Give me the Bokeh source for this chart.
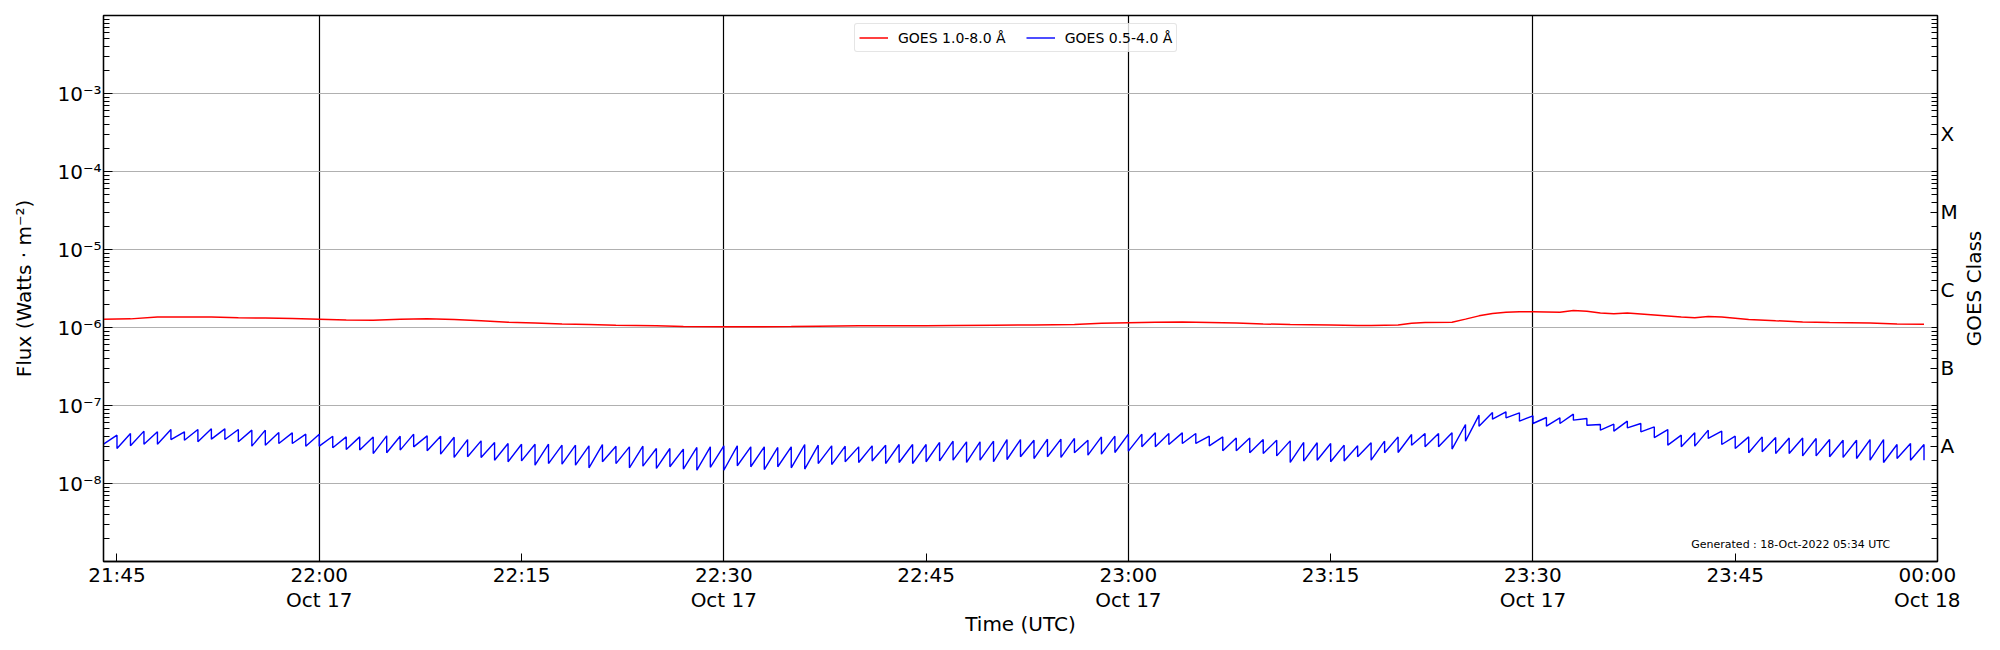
import math
import pandas as pd
from bokeh.plotting import figure
from bokeh.layouts import row
from bokeh.models import FixedTicker, CustomJSTickFormatter, LogAxis, Range1d, Label
from bokeh.embed import file_html
from bokeh.resources import INLINE

# ---------------- data ----------------
blue_start = "2022-10-17 21:44"          # one sawtooth tooth per minute
# value just after the drop at each minute boundary (21:44 ... 23:59), W/m^2
blue_low = [3.19e-8,
    2.81e-8, 3.04e-8, 3.19e-8, 3.19e-8, 3.66e-8, 3.59e-8, 3.42e-8, 3.70e-8, 3.66e-8, 3.42e-8,
    3.01e-8, 3.10e-8, 3.26e-8, 3.26e-8, 3.01e-8, 3.01e-8, 2.87e-8, 2.73e-8, 2.68e-8, 2.42e-8,
    2.48e-8, 2.68e-8, 2.95e-8, 2.63e-8, 2.38e-8, 2.16e-8, 2.20e-8, 2.16e-8, 1.99e-8, 1.90e-8,
    1.95e-8, 1.72e-8, 1.80e-8, 1.77e-8, 1.72e-8, 1.59e-8, 1.90e-8, 1.80e-8, 1.59e-8, 1.67e-8,
    1.56e-8, 1.64e-8, 1.53e-8, 1.48e-8, 1.61e-8, 1.48e-8, 1.69e-8, 1.64e-8, 1.51e-8, 1.64e-8,
    1.59e-8, 1.53e-8, 1.80e-8, 1.75e-8, 1.90e-8, 1.86e-8, 1.94e-8, 1.80e-8, 1.86e-8, 1.80e-8,
    1.90e-8, 1.95e-8, 1.99e-8, 1.86e-8, 1.99e-8, 1.90e-8, 2.03e-8, 2.20e-8, 2.09e-8, 2.20e-8,
    2.16e-8, 2.48e-8, 2.31e-8, 2.38e-8, 2.50e-8, 2.60e-8, 2.95e-8, 2.95e-8, 3.16e-8, 3.26e-8,
    3.26e-8, 3.04e-8, 2.63e-8, 2.63e-8, 2.48e-8, 2.42e-8, 2.26e-8, 1.86e-8, 1.94e-8, 1.99e-8,
    1.90e-8, 1.94e-8, 2.20e-8, 1.99e-8, 2.48e-8, 2.50e-8, 3.10e-8, 2.95e-8, 2.95e-8, 2.76e-8,
    3.49e-8, 5.43e-8, 6.68e-8, 6.95e-8, 6.30e-8, 5.88e-8, 5.43e-8, 5.88e-8, 6.49e-8, 5.59e-8,
    4.83e-8, 4.69e-8, 5.17e-8, 4.60e-8, 3.88e-8, 3.10e-8, 2.95e-8, 3.01e-8, 3.78e-8, 3.16e-8,
    2.81e-8, 2.48e-8, 2.55e-8, 2.42e-8, 2.42e-8, 2.26e-8, 2.26e-8, 2.20e-8, 2.16e-8, 2.09e-8,
    1.99e-8, 1.86e-8, 2.09e-8, 1.99e-8, 1.99e-8]
# value just before the drop at each minute boundary (21:45 ... 23:59), W/m^2
blue_high = [
    4.17e-8, 4.38e-8, 4.69e-8, 4.60e-8, 4.92e-8, 4.60e-8, 4.92e-8, 5.02e-8, 5.02e-8, 4.92e-8,
    4.83e-8, 4.83e-8, 4.51e-8, 4.46e-8, 4.29e-8, 4.29e-8, 4.04e-8, 3.96e-8, 3.96e-8, 3.96e-8,
    4.08e-8, 4.04e-8, 4.29e-8, 4.08e-8, 4.04e-8, 3.92e-8, 3.66e-8, 3.52e-8, 3.36e-8, 3.26e-8,
    3.19e-8, 3.19e-8, 3.19e-8, 3.10e-8, 3.10e-8, 3.04e-8, 3.16e-8, 3.01e-8, 2.95e-8, 3.01e-8,
    2.81e-8, 2.81e-8, 2.76e-8, 2.90e-8, 2.95e-8, 3.04e-8, 3.04e-8, 2.95e-8, 2.95e-8, 2.90e-8,
    2.95e-8, 3.16e-8, 3.10e-8, 3.04e-8, 3.01e-8, 2.95e-8, 3.04e-8, 3.10e-8, 3.16e-8, 3.16e-8,
    3.16e-8, 3.36e-8, 3.49e-8, 3.42e-8, 3.42e-8, 3.49e-8, 3.66e-8, 3.66e-8, 3.59e-8, 3.70e-8,
    3.70e-8, 3.78e-8, 3.59e-8, 3.96e-8, 4.04e-8, 4.29e-8, 4.29e-8, 4.46e-8, 4.38e-8, 4.46e-8,
    4.38e-8, 4.04e-8, 3.96e-8, 3.84e-8, 3.84e-8, 3.66e-8, 3.59e-8, 3.52e-8, 3.36e-8, 3.33e-8,
    3.26e-8, 3.10e-8, 3.04e-8, 3.33e-8, 3.49e-8, 3.96e-8, 4.25e-8, 4.38e-8, 4.38e-8, 4.46e-8,
    5.71e-8, 7.52e-8, 8.13e-8, 8.29e-8, 8.05e-8, 7.37e-8, 7.02e-8, 6.95e-8, 7.74e-8, 6.81e-8,
    5.71e-8, 5.76e-8, 6.30e-8, 5.88e-8, 5.32e-8, 4.92e-8, 4.17e-8, 4.46e-8, 4.83e-8, 4.69e-8,
    4.04e-8, 3.96e-8, 3.96e-8, 3.88e-8, 3.84e-8, 3.84e-8, 3.78e-8, 3.66e-8, 3.59e-8, 3.59e-8,
    3.66e-8, 3.66e-8, 3.16e-8, 3.26e-8, 3.16e-8]

red_day = "2022-10-17"
red_times = ["21:44", "21:46", "21:48", "21:50", "21:52", "21:54", "21:56", "21:58", "22:00",
             "22:02", "22:04", "22:06", "22:08", "22:10", "22:12", "22:14", "22:16", "22:18",
             "22:20", "22:22", "22:25", "22:27", "22:30", "22:32", "22:35", "22:37", "22:40",
             "22:42", "22:45", "22:47", "22:50", "22:53", "22:56", "22:58", "23:00", "23:02",
             "23:04", "23:06", "23:08", "23:10", "23:12", "23:15", "23:17", "23:18", "23:20",
             "23:21", "23:22", "23:24", "23:25", "23:26", "23:27", "23:28", "23:29", "23:30",
             "23:32", "23:33", "23:34", "23:35", "23:36", "23:37", "23:39", "23:41", "23:42",
             "23:43", "23:44", "23:46", "23:48", "23:50", "23:52", "23:55", "23:57", "23:59"]
red_flux = [1.28e-6, 1.29e-6, 1.36e-6, 1.36e-6, 1.36e-6, 1.33e-6, 1.32e-6, 1.30e-6, 1.28e-6,
            1.25e-6, 1.24e-6, 1.28e-6, 1.29e-6, 1.27e-6, 1.22e-6, 1.17e-6, 1.14e-6, 1.11e-6,
            1.09e-6, 1.07e-6, 1.05e-6, 1.03e-6, 1.02e-6, 1.02e-6, 1.03e-6, 1.04e-6, 1.05e-6,
            1.05e-6, 1.05e-6, 1.06e-6, 1.07e-6, 1.08e-6, 1.09e-6, 1.13e-6, 1.15e-6, 1.17e-6,
            1.18e-6, 1.16e-6, 1.14e-6, 1.11e-6, 1.09e-6, 1.08e-6, 1.06e-6, 1.06e-6, 1.08e-6,
            1.13e-6, 1.16e-6, 1.17e-6, 1.28e-6, 1.41e-6, 1.51e-6, 1.57e-6, 1.59e-6, 1.59e-6,
            1.57e-6, 1.65e-6, 1.62e-6, 1.53e-6, 1.50e-6, 1.53e-6, 1.45e-6, 1.36e-6, 1.33e-6,
            1.38e-6, 1.36e-6, 1.27e-6, 1.22e-6, 1.18e-6, 1.16e-6, 1.14e-6, 1.11e-6, 1.10e-6]

x_start, x_end = "2022-10-17 21:44", "2022-10-18 00:00"
x_tick_times = ["2022-10-17 21:45", "2022-10-17 22:00", "2022-10-17 22:15", "2022-10-17 22:30",
                "2022-10-17 22:45", "2022-10-17 23:00", "2022-10-17 23:15", "2022-10-17 23:30",
                "2022-10-17 23:45", "2022-10-18 00:00"]
vline_times = ["2022-10-17 22:00", "2022-10-17 22:30", "2022-10-17 23:00", "2022-10-17 23:30"]
y_major = [1e-8, 1e-7, 1e-6, 1e-5, 1e-4, 1e-3]
y_decades = [-9, -8, -7, -6, -5, -4, -3]
goes_class_labels = ["A", "B", "C", "M", "X"]
goes_class_flux = [3e-8, 3e-7, 3e-6, 3e-5, 3e-4]
generated_text = "Generated : 18-Oct-2022 05:34 UTC"

FONT = "DejaVu Sans"

W, H = 1960, 647
BL, BR, BT, BB = 103, 23, 15, 86
FRAME_W, FRAME_H = W - BL - BR, H - BT - BB
TITLE_W = 26


def ms(ts):
    return pd.Timestamp(ts).value / 1e6


# build the sawtooth path from the per-minute readings
minutes = pd.date_range(blue_start, periods=len(blue_low), freq="min")
bx, by = [minutes[0]], [blue_low[0]]
for i, hi in enumerate(blue_high, start=1):
    bx += [minutes[i], minutes[i]]
    by += [hi, blue_low[i]]

red_x = pd.to_datetime([red_day + " " + t for t in red_times])

minor = [k * 10.0 ** n for n in y_decades for k in range(1, 10)] + [1e-2]

p = figure(width=W, height=H, x_axis_type="datetime", y_axis_type="log",
           x_range=Range1d(ms(x_start), ms(x_end)), y_range=Range1d(1e-9, 1e-2),
           output_backend="svg", toolbar_location=None,
           min_border_left=BL, min_border_right=BR, min_border_top=BT, min_border_bottom=BB)
p.background_fill_color = "white"
p.border_fill_color = "white"
p.outline_line_color = "black"
p.outline_line_width = 1.3
p.outline_line_alpha = 1.0

p.line(red_x, red_flux, color="#ff0000", line_width=1.5, legend_label="GOES 1.0-8.0 Å")
p.line(bx, by, color="#0000ff", line_width=1.4, legend_label="GOES 0.5-4.0 Å")

# x axis
xa = p.xaxis[0]
xa.ticker = FixedTicker(ticks=[ms(t) for t in x_tick_times], minor_ticks=[])
xa.formatter = CustomJSTickFormatter(code="""
const d = new Date(tick);
const pad = (n) => String(n).padStart(2, '0');
const mon = ['Jan','Feb','Mar','Apr','May','Jun','Jul','Aug','Sep','Oct','Nov','Dec'];
let s = pad(d.getUTCHours()) + ':' + pad(d.getUTCMinutes());
if (d.getUTCMinutes() % 30 == 0) { s += '\\n' + mon[d.getUTCMonth()] + ' ' + d.getUTCDate(); }
return s;
""")
xa.axis_label = "Time (UTC)"
xa.major_tick_in = 8
xa.major_tick_out = 0
xa.minor_tick_in = 0
xa.minor_tick_out = 0
xa.major_label_standoff = 1
xa.axis_label_standoff = -3
xa.major_label_text_line_height = 1.05

# left y axis
ya = p.yaxis[0]
ya.ticker = FixedTicker(ticks=y_major, minor_ticks=minor)
ya.formatter = CustomJSTickFormatter(code="""
const sup = {'-':'\u207b','0':'\u2070','1':'\u00b9','2':'\u00b2','3':'\u00b3','4':'\u2074',
             '5':'\u2075','6':'\u2076','7':'\u2077','8':'\u2078','9':'\u2079'};
const e = String(Math.round(Math.log10(tick)));
return '10' + e.split('').map(c => sup[c]).join('');
""")
ya.axis_label = "Flux (Watts · m⁻²)"
ya.major_tick_in = 9
ya.major_tick_out = 0
ya.minor_tick_in = 6
ya.minor_tick_out = 0
ya.major_label_standoff = 2
ya.axis_label_standoff = 18

# right GOES class axis
ra = LogAxis(ticker=FixedTicker(ticks=goes_class_flux, minor_ticks=minor),
             formatter=CustomJSTickFormatter(args=dict(labels=goes_class_labels, vals=goes_class_flux), code="""
for (let i = 0; i < vals.length; i++) {
  if (Math.abs(Math.log10(tick) - Math.log10(vals[i])) < 0.01) return labels[i];
}
return '';
"""))
ra.major_tick_in = 7
ra.major_tick_out = 0
ra.minor_tick_in = 6
ra.minor_tick_out = 0
ra.major_label_standoff = 3
p.add_layout(ra, "right")

for ax in (xa, ya, ra):
    ax.axis_line_color = "black"
    ax.axis_line_width = 1.3
    ax.major_tick_line_color = "black"
    ax.minor_tick_line_color = "black"
    ax.major_tick_line_width = 1.0
    ax.minor_tick_line_width = 1.0
    ax.major_label_text_font = FONT
    ax.major_label_text_font_size = "20px"
    ax.major_label_text_color = "black"
    ax.axis_label_text_font = FONT
    ax.axis_label_text_font_size = "20px"
    ax.axis_label_text_font_style = "normal"
    ax.axis_label_text_color = "black"

# grids
p.ygrid[0].grid_line_color = "#b0b0b0"
p.ygrid[0].grid_line_width = 1.2
p.xgrid[0].ticker = FixedTicker(ticks=[ms(t) for t in vline_times], minor_ticks=[])
p.xgrid[0].grid_line_color = "black"
p.xgrid[0].grid_line_width = 1.2

# legend
lg = p.legend[0]
lg.orientation = "horizontal"
lg.location = (751, FRAME_H - 8 - 29)
lg.label_text_font = FONT
lg.label_text_font_size = "14px"
lg.label_text_color = "black"
lg.glyph_width = 29
lg.glyph_height = 19
lg.label_height = 19
lg.label_standoff = 10
lg.spacing = 20
lg.padding = 4
lg.margin = 0
lg.border_line_color = "#cccccc"
lg.border_line_width = 1
lg.background_fill_color = "white"
lg.background_fill_alpha = 0.8
if "border_radius" in lg.properties():
    lg.border_radius = 3

p.add_layout(Label(x=ms("2022-10-17 23:56:29"), y=1.65e-9, text=generated_text,
                   text_font=FONT, text_font_size="11px", text_color="black",
                   text_align="right", text_baseline="middle"))

# narrow strip holding the right-hand axis title, reading bottom to top
p2 = figure(width=TITLE_W, height=H, x_range=Range1d(0, 1), y_range=Range1d(0, 1),
            output_backend="svg", toolbar_location=None,
            x_axis_location=None, y_axis_location=None,
            min_border_left=0, min_border_right=0, min_border_top=BT, min_border_bottom=BB)
p2.outline_line_color = None
p2.background_fill_color = "white"
p2.border_fill_color = "white"
for g in p2.grid:
    g.visible = False
p2.add_layout(Label(x=0.5, y=0.5, text="GOES Class", angle=math.pi / 2, text_font=FONT,
                    text_font_size="20px", text_color="black",
                    text_align="center", text_baseline="middle"))

layout = row(p, p2, spacing=0)
open("out.html", "w").write(file_html(layout, INLINE))
